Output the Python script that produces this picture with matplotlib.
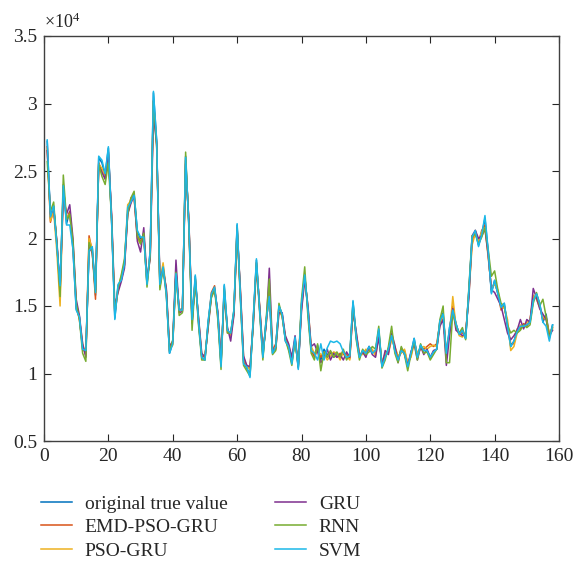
import matplotlib
matplotlib.use("Agg")
import matplotlib.pyplot as plt
import numpy as np

plt.rcParams['font.family'] = ['Liberation Serif', 'DejaVu Serif']
plt.rcParams['mathtext.fontset'] = 'custom'
plt.rcParams['mathtext.rm'] = 'Liberation Serif'

# values in units of 1e4
true_value = [
    2.72, 2.15, 2.24, 1.95, 1.64, 2.40, 2.11, 2.20, 1.92, 1.48,
    1.42, 1.18, 1.16, 1.91, 1.93, 1.58, 2.60, 2.56, 2.47, 2.67,
    2.13, 1.41, 1.65, 1.69, 1.81, 2.21, 2.27, 2.33, 2.05, 2.00,
    2.02, 1.66, 1.91, 3.08, 2.72, 1.64, 1.80, 1.60, 1.15, 1.23,
    1.76, 1.47, 1.48, 2.61, 2.10, 1.37, 1.72, 1.38, 1.12, 1.10,
    1.38, 1.58, 1.63, 1.44, 1.06, 1.65, 1.32, 1.29, 1.46, 2.10,
    1.58, 1.08, 1.04, 0.99, 1.40, 1.84, 1.47, 1.12, 1.39, 1.57,
    1.15, 1.20, 1.50, 1.44, 1.24, 1.20, 1.08, 1.26, 1.04, 1.51,
    1.73, 1.46, 1.17, 1.13, 1.21, 1.10, 1.18, 1.14, 1.15, 1.12,
    1.14, 1.13, 1.16, 1.12, 1.13, 1.53, 1.27, 1.12, 1.17, 1.15,
    1.20, 1.15, 1.17, 1.32, 1.05, 1.12, 1.18, 1.29, 1.17, 1.10,
    1.18, 1.15, 1.05, 1.15, 1.26, 1.12, 1.21, 1.17, 1.17, 1.12,
    1.16, 1.18, 1.39, 1.45, 1.13, 1.34, 1.47, 1.37, 1.29, 1.32,
    1.26, 1.62, 2.00, 2.05, 1.95, 2.03, 2.15, 1.90, 1.60, 1.69,
    1.59, 1.49, 1.52, 1.35, 1.20, 1.24, 1.31, 1.35, 1.35, 1.36,
    1.38, 1.54, 1.59, 1.52, 1.38, 1.44, 1.27, 1.36]

emd_pso_gru = [
    2.68, 2.12, 2.22, 1.97, 1.60, 2.38, 2.14, 2.20, 1.95, 1.50,
    1.40, 1.20, 1.14, 2.02, 1.90, 1.55, 2.56, 2.50, 2.46, 2.62,
    2.16, 1.44, 1.62, 1.70, 1.80, 2.18, 2.30, 2.30, 2.02, 1.98,
    2.03, 1.68, 1.88, 3.02, 2.70, 1.66, 1.78, 1.62, 1.17, 1.22,
    1.74, 1.48, 1.46, 2.58, 2.12, 1.38, 1.70, 1.40, 1.13, 1.12,
    1.36, 1.60, 1.65, 1.42, 1.08, 1.62, 1.30, 1.30, 1.45, 2.08,
    1.60, 1.10, 1.06, 1.04, 1.38, 1.82, 1.48, 1.14, 1.37, 1.60,
    1.17, 1.22, 1.48, 1.42, 1.26, 1.18, 1.10, 1.24, 1.06, 1.50,
    1.72, 1.48, 1.18, 1.12, 1.18, 1.12, 1.16, 1.12, 1.16, 1.14,
    1.12, 1.15, 1.14, 1.14, 1.11, 1.50, 1.28, 1.14, 1.15, 1.17,
    1.18, 1.17, 1.15, 1.30, 1.07, 1.14, 1.16, 1.27, 1.19, 1.12,
    1.16, 1.17, 1.07, 1.13, 1.24, 1.14, 1.19, 1.18, 1.20, 1.22,
    1.20, 1.22, 1.37, 1.43, 1.15, 1.32, 1.50, 1.36, 1.30, 1.30,
    1.28, 1.60, 1.97, 2.06, 1.97, 2.06, 2.10, 1.88, 1.62, 1.67,
    1.60, 1.47, 1.50, 1.37, 1.22, 1.22, 1.33, 1.33, 1.37, 1.35,
    1.40, 1.56, 1.57, 1.50, 1.40, 1.42, 1.29, 1.34]

pso_gru = [
    2.66, 2.13, 2.20, 1.90, 1.50, 2.36, 2.15, 2.18, 1.96, 1.52,
    1.41, 1.22, 1.13, 2.00, 1.92, 1.60, 2.55, 2.52, 2.44, 2.63,
    2.15, 1.45, 1.63, 1.72, 1.82, 2.25, 2.28, 2.31, 2.00, 1.96,
    2.00, 1.68, 1.89, 3.00, 2.68, 1.68, 1.82, 1.61, 1.18, 1.21,
    1.73, 1.46, 1.47, 2.56, 2.13, 1.40, 1.69, 1.41, 1.14, 1.13,
    1.35, 1.58, 1.62, 1.45, 1.09, 1.60, 1.33, 1.28, 1.44, 2.05,
    1.62, 1.12, 1.05, 1.03, 1.36, 1.80, 1.50, 1.15, 1.36, 1.62,
    1.18, 1.19, 1.46, 1.43, 1.27, 1.21, 1.11, 1.23, 1.07, 1.48,
    1.70, 1.50, 1.20, 1.15, 1.17, 1.14, 1.15, 1.10, 1.13, 1.16,
    1.15, 1.10, 1.16, 1.13, 1.10, 1.48, 1.30, 1.15, 1.14, 1.18,
    1.17, 1.18, 1.13, 1.28, 1.08, 1.15, 1.15, 1.25, 1.20, 1.13,
    1.15, 1.18, 1.08, 1.12, 1.22, 1.15, 1.18, 1.20, 1.18, 1.20,
    1.21, 1.20, 1.36, 1.42, 1.16, 1.30, 1.57, 1.35, 1.28, 1.27,
    1.30, 1.58, 1.95, 2.04, 1.98, 2.05, 2.08, 1.86, 1.63, 1.66,
    1.62, 1.48, 1.49, 1.40, 1.17, 1.20, 1.30, 1.36, 1.34, 1.38,
    1.39, 1.58, 1.55, 1.49, 1.42, 1.40, 1.30, 1.33]

gru = [
    2.65, 2.18, 2.22, 1.98, 1.62, 2.33, 2.18, 2.25, 2.00, 1.55,
    1.43, 1.22, 1.12, 1.95, 1.89, 1.62, 2.54, 2.49, 2.44, 2.64,
    2.18, 1.50, 1.60, 1.68, 1.78, 2.18, 2.26, 2.32, 1.98, 1.90,
    2.08, 1.70, 1.85, 2.92, 2.70, 1.70, 1.77, 1.63, 1.20, 1.24,
    1.84, 1.45, 1.46, 2.55, 2.14, 1.40, 1.68, 1.42, 1.15, 1.12,
    1.34, 1.57, 1.62, 1.46, 1.10, 1.58, 1.34, 1.24, 1.43, 2.06,
    1.63, 1.13, 1.06, 1.05, 1.35, 1.80, 1.50, 1.16, 1.35, 1.78,
    1.18, 1.18, 1.45, 1.45, 1.28, 1.22, 1.12, 1.28, 1.05, 1.46,
    1.70, 1.50, 1.20, 1.22, 1.16, 1.08, 1.12, 1.18, 1.10, 1.15,
    1.12, 1.14, 1.10, 1.16, 1.12, 1.46, 1.31, 1.13, 1.16, 1.12,
    1.20, 1.14, 1.12, 1.27, 1.06, 1.17, 1.14, 1.30, 1.21, 1.08,
    1.19, 1.14, 1.06, 1.16, 1.22, 1.10, 1.20, 1.14, 1.18, 1.12,
    1.17, 1.18, 1.35, 1.40, 1.06, 1.28, 1.48, 1.32, 1.30, 1.28,
    1.30, 1.56, 2.02, 2.06, 2.00, 2.02, 2.07, 1.88, 1.62, 1.60,
    1.55, 1.50, 1.40, 1.30, 1.25, 1.28, 1.32, 1.40, 1.33, 1.40,
    1.38, 1.63, 1.56, 1.48, 1.44, 1.40, 1.28, 1.32]

rnn = [
    2.57, 2.20, 2.27, 1.96, 1.57, 2.47, 2.14, 2.18, 1.98, 1.52,
    1.40, 1.15, 1.09, 1.97, 1.90, 1.60, 2.55, 2.46, 2.40, 2.56,
    2.14, 1.45, 1.63, 1.73, 1.85, 2.18, 2.30, 2.35, 2.02, 1.96,
    2.04, 1.64, 1.88, 3.02, 2.70, 1.62, 1.78, 1.58, 1.16, 1.25,
    1.75, 1.43, 1.45, 2.64, 2.08, 1.32, 1.70, 1.36, 1.10, 1.10,
    1.37, 1.56, 1.62, 1.40, 1.03, 1.63, 1.30, 1.30, 1.47, 2.08,
    1.55, 1.06, 1.02, 0.98, 1.38, 1.82, 1.45, 1.10, 1.40, 1.70,
    1.14, 1.17, 1.52, 1.42, 1.25, 1.17, 1.06, 1.25, 1.05, 1.55,
    1.79, 1.42, 1.15, 1.10, 1.22, 1.02, 1.16, 1.12, 1.17, 1.12,
    1.16, 1.12, 1.18, 1.10, 1.14, 1.52, 1.25, 1.10, 1.18, 1.14,
    1.16, 1.20, 1.18, 1.35, 1.04, 1.10, 1.20, 1.35, 1.15, 1.08,
    1.20, 1.14, 1.02, 1.14, 1.24, 1.10, 1.22, 1.15, 1.16, 1.10,
    1.14, 1.18, 1.40, 1.50, 1.08, 1.08, 1.46, 1.35, 1.30, 1.34,
    1.25, 1.64, 2.02, 2.03, 1.96, 2.01, 2.08, 1.92, 1.72, 1.76,
    1.62, 1.52, 1.50, 1.36, 1.30, 1.32, 1.30, 1.32, 1.36, 1.34,
    1.36, 1.52, 1.60, 1.50, 1.55, 1.42, 1.26, 1.35]

svm = [
    2.73, 2.16, 2.24, 1.95, 1.65, 2.39, 2.10, 2.10, 1.92, 1.47,
    1.42, 1.18, 1.17, 1.91, 1.94, 1.60, 2.61, 2.58, 2.48, 2.68,
    2.13, 1.40, 1.66, 1.69, 1.81, 2.23, 2.27, 2.32, 2.06, 2.01,
    2.01, 1.66, 1.91, 3.09, 2.73, 1.66, 1.79, 1.59, 1.15, 1.22,
    1.74, 1.47, 1.47, 2.60, 2.11, 1.40, 1.73, 1.39, 1.12, 1.10,
    1.39, 1.59, 1.64, 1.44, 1.05, 1.66, 1.32, 1.30, 1.47, 2.11,
    1.59, 1.07, 1.05, 0.97, 1.40, 1.85, 1.47, 1.12, 1.39, 1.57,
    1.15, 1.20, 1.50, 1.44, 1.24, 1.20, 1.07, 1.27, 1.03, 1.52,
    1.73, 1.47, 1.17, 1.15, 1.10, 1.22, 1.10, 1.19, 1.24, 1.23,
    1.24, 1.22, 1.16, 1.12, 1.13, 1.54, 1.27, 1.12, 1.17, 1.15,
    1.20, 1.15, 1.17, 1.33, 1.05, 1.12, 1.18, 1.28, 1.17, 1.10,
    1.17, 1.15, 1.05, 1.15, 1.26, 1.12, 1.21, 1.17, 1.17, 1.12,
    1.16, 1.18, 1.39, 1.44, 1.15, 1.34, 1.47, 1.37, 1.29, 1.32,
    1.26, 1.61, 2.01, 2.06, 1.94, 2.03, 2.17, 1.91, 1.59, 1.69,
    1.59, 1.49, 1.52, 1.35, 1.20, 1.24, 1.31, 1.35, 1.35, 1.36,
    1.38, 1.54, 1.59, 1.52, 1.38, 1.35, 1.24, 1.36]

series_names = ["original true value", "EMD-PSO-GRU", "PSO-GRU", "GRU", "RNN", "SVM"]
series_data = [true_value, emd_pso_gru, pso_gru, gru, rnn, svm]
colors = ["#0072BD", "#D95319", "#EDB120", "#7E2F8E", "#77AC30", "#1BB8E8"]

x_ticks = [0, 20, 40, 60, 80, 100, 120, 140, 160]
y_ticks = [0.5, 1, 1.5, 2, 2.5, 3, 3.5]
y_tick_labels = ["0.5", "1", "1.5", "2", "2.5", "3", "3.5"]

fig = plt.figure(figsize=(5.74, 5.67), dpi=100)
ax = fig.add_axes([44/574, 1-441/567, (559-44)/574, (441-36)/567])

handles = []
for name, data, c in zip(series_names, series_data, colors):
    xs = np.arange(1, len(data) + 1)
    h, = ax.plot(xs, data, color=c, lw=1.1, label=name)
    handles.append(h)

ax.set_xlim(0, 160)
ax.set_ylim(0.5, 3.5)
ax.set_xticks(x_ticks)
ax.set_yticks(y_ticks)
ax.set_yticklabels(y_tick_labels)
ax.tick_params(direction='in', top=True, right=True, length=5, width=0.8,
               labelsize=14, colors='#262626', pad=5)
for s in ax.spines.values():
    s.set_color('#404040')
    s.set_linewidth(1.0)

ax.text(0.0, 1.01, r'$\mathregular{\times10^{4}}$', transform=ax.transAxes,
        ha='left', va='bottom', fontsize=13, color='#262626')

leg = fig.legend(handles=handles, loc='upper left', bbox_to_anchor=(41/574, 1-495/567),
                 ncol=2, frameon=False, fontsize=14, handlelength=1.6,
                 handletextpad=0.65, columnspacing=2.45, labelspacing=0.3,
                 borderpad=0, borderaxespad=0)
for t in leg.get_texts():
    t.set_color('#262626')

fig.savefig("out.png", dpi=100)
